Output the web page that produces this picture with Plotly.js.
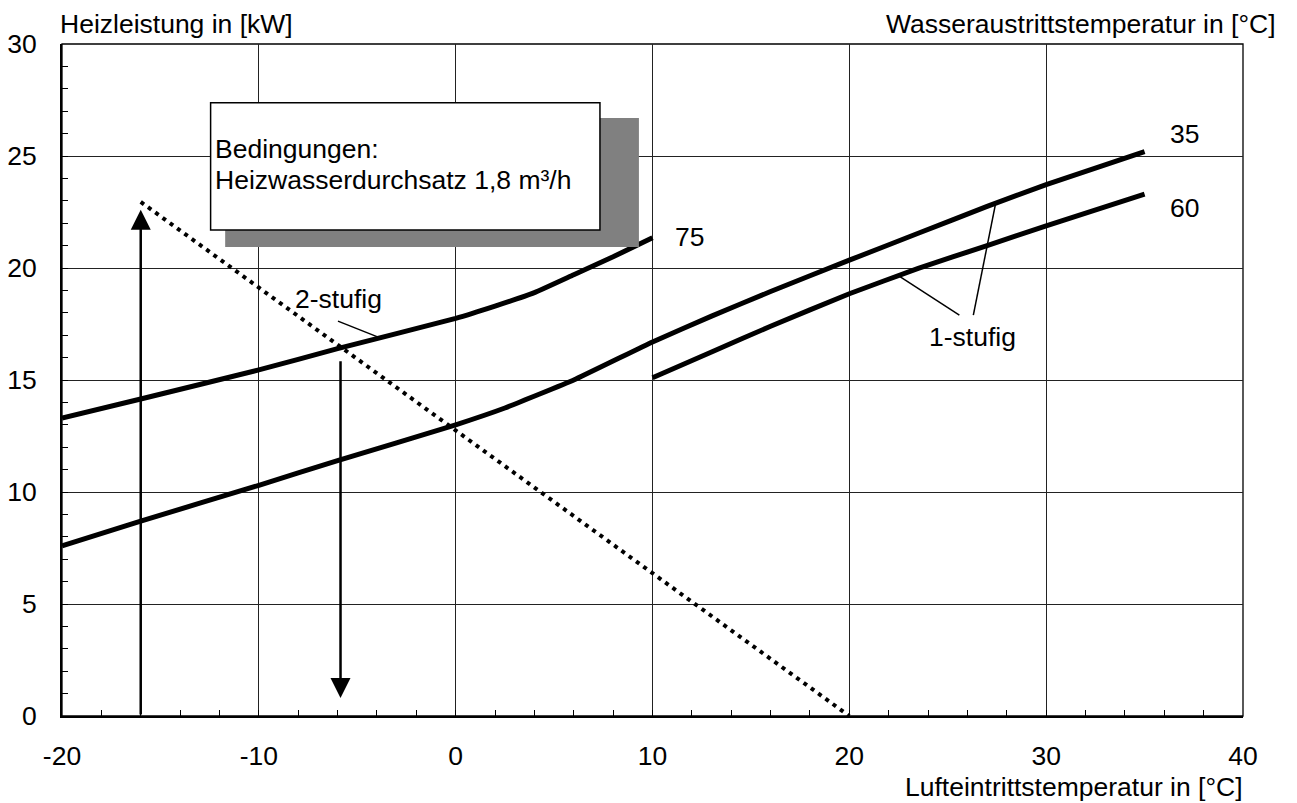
<!DOCTYPE html>
<html>
<head>
<meta charset="utf-8">
<script src="https://cdn.plot.ly/plotly-3.0.1.min.js"></script>
<style>
  html, body { margin: 0; padding: 0; background: #ffffff; }
  #chart { width: 1297px; height: 803px; }
</style>
</head>
<body>
<div id="chart"></div>
<script>
// ---- Data ----
// Wasseraustrittstemperatur 35 °C
const x35 = [-20, -16, -10, -6, 0, 2.5, 6, 10, 13, 16, 20, 23.5, 27, 30, 35];
const y35 = [7.6, 8.7, 10.3, 11.4, 13.0, 13.75, 15.0, 16.7, 17.85, 18.95, 20.35, 21.55, 22.75, 23.72, 25.2];

// Wasseraustrittstemperatur 75 °C (2-stufig)
const x75 = [-20, -16, -10, -6, 0, 2, 4, 6, 8, 10];
const y75 = [13.3, 14.15, 15.45, 16.4, 17.75, 18.3, 18.9, 19.7, 20.5, 21.35];

// Wasseraustrittstemperatur 60 °C (1-stufig)
const x60 = [10, 13, 16, 20, 23.5, 27, 30, 35];
const y60 = [15.1, 16.25, 17.4, 18.85, 19.98, 21.0, 21.88, 23.3];

// Heating demand line (dotted)
const xDemand = [-16, 20];
const yDemand = [22.95, 0];

// Reading example arrows: x position, start value, end value
const arrowX = [-16, -5.85];
const arrowFrom = [0, 15.9];
const arrowTo = [22.6, 0.8];

// Leader lines for the stage labels
const leader2X = [-5.98, -3.84];
const leader2Y = [17.63, 16.88];
const leader1aX = [25.59, 22.57];
const leader1aY = [17.9, 19.61];
const leader1bX = [26.3, 27.45];
const leader1bY = [17.9, 22.96];

// Curve labels
const curveLabels = ['35', '60', '75'];
const curveLabelX = [36.2, 36.2, 11.04];
const curveLabelY = [26.0, 22.68, 21.4];

// Axis ticks
const xTicks = [-20, -10, 0, 10, 20, 30, 40];
const yTicks = [0, 5, 10, 15, 20, 25, 30];

// ---- Styling ----
const FONT = 'Arial, "Liberation Sans", sans-serif';
const FS = 26.5;
const black = '#000000';

const thick = { color: black, width: 5, shape: 'spline', smoothing: 0.3 };
const thin = { color: black, width: 1.5 };

const traces = [
  { x: x35, y: y35, mode: 'lines', line: thick, hoverinfo: 'skip' },
  { x: x75, y: y75, mode: 'lines', line: thick, hoverinfo: 'skip' },
  { x: x60, y: y60, mode: 'lines', line: thick, hoverinfo: 'skip' },
  { x: xDemand, y: yDemand, mode: 'lines', line: { color: black, width: 4, dash: '4px,5px' }, hoverinfo: 'skip' },
  { x: leader2X, y: leader2Y, mode: 'lines', line: thin, hoverinfo: 'skip' },
  { x: leader1aX, y: leader1aY, mode: 'lines', line: thin, hoverinfo: 'skip' },
  { x: leader1bX, y: leader1bY, mode: 'lines', line: thin, hoverinfo: 'skip' }
];

const annotations = [];

// arrows
for (let i = 0; i < arrowX.length; i++) {
  annotations.push({
    x: arrowX[i], y: arrowTo[i], xref: 'x', yref: 'y',
    ax: arrowX[i], ay: arrowFrom[i], axref: 'x', ayref: 'y',
    text: '', showarrow: true, arrowhead: 2, arrowsize: 1.6, arrowwidth: 2.5,
    arrowcolor: black, standoff: 0, startstandoff: 0
  });
}

// curve labels
for (let i = 0; i < curveLabels.length; i++) {
  annotations.push({
    x: curveLabelX[i], y: curveLabelY[i], xref: 'x', yref: 'y',
    text: curveLabels[i], showarrow: false, xanchor: 'left', yanchor: 'middle',
    font: { family: FONT, size: FS, color: black }
  });
}

// stage labels
annotations.push({
  x: -8.26, y: 18.6, xref: 'x', yref: 'y', text: '2-stufig', showarrow: false,
  xanchor: 'left', yanchor: 'middle', font: { family: FONT, size: FS, color: black }
});
annotations.push({
  x: 23.95, y: 16.9, xref: 'x', yref: 'y', text: '1-stufig', showarrow: false,
  xanchor: 'left', yanchor: 'middle', font: { family: FONT, size: FS, color: black }
});

// text box content
annotations.push({
  x: -12.35, y: 25.3, xref: 'x', yref: 'y', text: 'Bedingungen:', showarrow: false,
  xanchor: 'left', yanchor: 'middle', font: { family: FONT, size: FS, color: black }
});
annotations.push({
  x: -12.35, y: 23.93, xref: 'x', yref: 'y', text: 'Heizwasserdurchsatz 1,8 m³/h', showarrow: false,
  xanchor: 'left', yanchor: 'middle', font: { family: FONT, size: FS, color: black }
});

// axis titles
annotations.push({
  x: -0.0034, y: 1.0293, xref: 'paper', yref: 'paper', text: 'Heizleistung in [kW]',
  showarrow: false, xanchor: 'left', yanchor: 'middle', font: { family: FONT, size: FS, color: black }
});
annotations.push({
  x: 1.0296, y: 1.0293, xref: 'paper', yref: 'paper', text: 'Wasseraustrittstemperatur in [°C]',
  showarrow: false, xanchor: 'right', yanchor: 'middle', font: { family: FONT, size: FS, color: black }
});
annotations.push({
  x: 1.0017, y: -0.106, xref: 'paper', yref: 'paper', text: 'Lufteintrittstemperatur in [°C]',
  showarrow: false, xanchor: 'right', yanchor: 'middle', font: { family: FONT, size: FS, color: black }
});

const shapes = [
  // shadow of the conditions box
  { type: 'rect', xref: 'x', yref: 'y', x0: -11.71, x1: 9.31, y0: 20.94, y1: 26.7,
    fillcolor: '#808080', line: { width: 0 }, layer: 'above' },
  // conditions box
  { type: 'rect', xref: 'x', yref: 'y', x0: -12.45, x1: 7.33, y0: 21.7, y1: 27.38,
    fillcolor: '#ffffff', line: { color: black, width: 1.5 }, layer: 'above' },
  // frame top/right
  { type: 'rect', xref: 'paper', yref: 'paper', x0: 0, x1: 1, y0: 0, y1: 1,
    line: { color: black, width: 1.3 }, fillcolor: 'rgba(0,0,0,0)', layer: 'below' }
];

const layout = {
  width: 1297, height: 803,
  margin: { l: 62, r: 54, t: 44, b: 87, pad: 0 },
  paper_bgcolor: '#ffffff', plot_bgcolor: '#ffffff',
  showlegend: false,
  font: { family: FONT, size: FS, color: black },
  xaxis: {
    range: [-20, 40], tickmode: 'array', tickvals: xTicks, ticktext: xTicks.map(String),
    showgrid: true, gridcolor: '#222222', gridwidth: 1,
    zeroline: false, showline: true, linecolor: black, linewidth: 2,
    ticks: 'inside', ticklen: 6, tickwidth: 1, tickcolor: black,
    ticklabelstandoff: 15,
    minor: { dtick: 2, ticks: 'inside', ticklen: 6, tickwidth: 1, tickcolor: black, showgrid: false },
    tickfont: { family: FONT, size: FS, color: black },
    fixedrange: true
  },
  yaxis: {
    range: [0, 30], tickmode: 'array', tickvals: yTicks, ticktext: yTicks.map(String),
    showgrid: true, gridcolor: '#222222', gridwidth: 1,
    zeroline: false, showline: true, linecolor: black, linewidth: 2,
    ticks: 'inside', ticklen: 6, tickwidth: 1, tickcolor: black,
    ticklabelstandoff: 18,
    minor: { dtick: 1, ticks: 'inside', ticklen: 6, tickwidth: 1, tickcolor: black, showgrid: false },
    tickfont: { family: FONT, size: FS, color: black },
    fixedrange: true
  },
  shapes: shapes,
  annotations: annotations
};

Plotly.newPlot('chart', traces, layout, { displayModeBar: false, staticPlot: true });
</script>
</body>
</html>
